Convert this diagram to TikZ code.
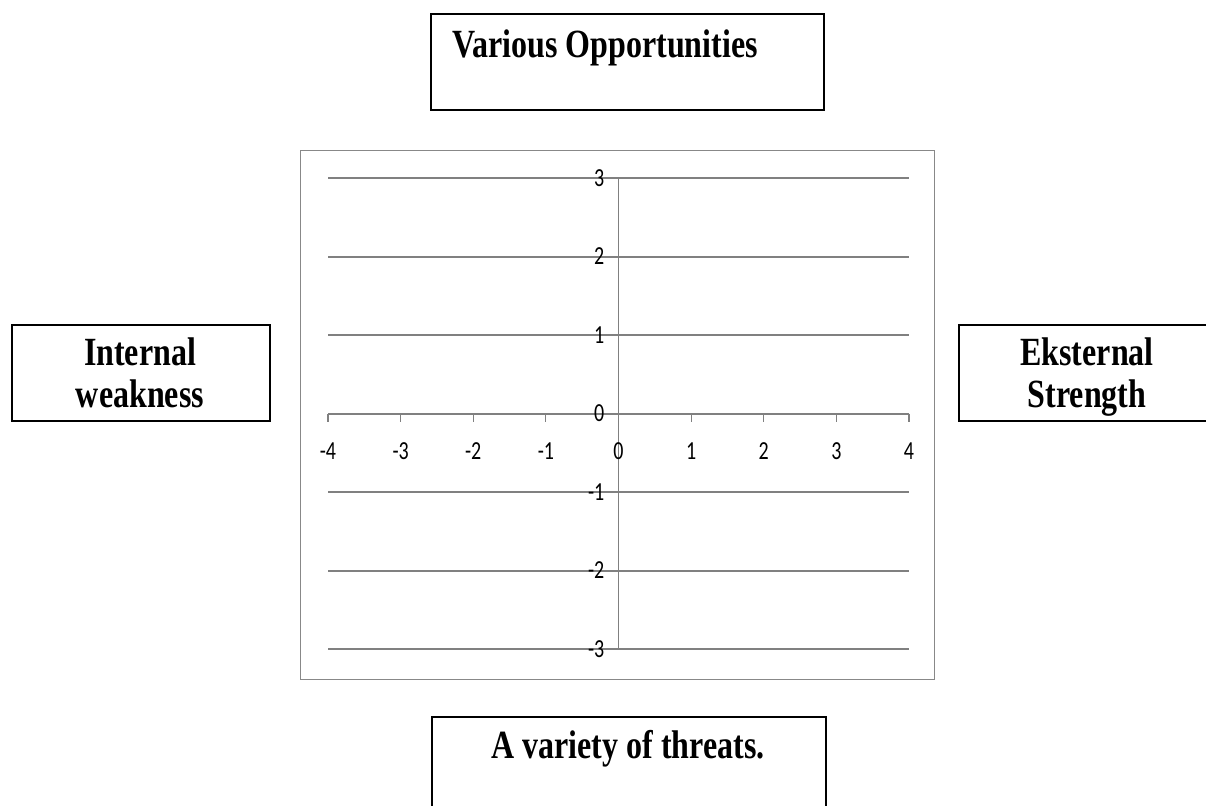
\documentclass[tikz,border=0pt]{standalone}
\usepackage{fontspec}
\usepackage{graphicx}
\setmainfont{Liberation Serif}
\newfontfamily\chartfont{Carlito}
\usepackage{tikz}
\usetikzlibrary{positioning}
\definecolor{gridgray}{RGB}{128,128,128}
\definecolor{framegray}{RGB}{136,136,136}
\newcommand\stretchtxt[2][1.25]{\scalebox{1}[#1]{#2}}

\begin{document}
\begin{tikzpicture}[
  x=1pt, y=-1pt,
  box/.style={draw, line width=1.7pt, anchor=north west, minimum height=96pt},
  boxtext/.style={font=\fontsize{32}{42}\selectfont\bfseries, align=center, inner sep=0pt},
  gridline/.style={gridgray, line width=2pt},
  axisline/.style={gridgray, line width=1.2pt},
  numlabel/.style={font=\chartfont\fontsize{20}{20}\selectfont, inner sep=0pt}]
  \clip (0,0) rectangle (1206,805);
  \fill[white] (0,0) rectangle (1206,805);

  % the four boxes
  \node[box, minimum width=393pt] (opp) at (430,13) {};
  \node[boxtext, anchor=base west] (opplabel) at (452,58) {\stretchtxt{Various Opportunities}};
  \node[box, minimum width=258pt] (weak) at (11,324) {};
  \node[boxtext, anchor=base] (weaklabel) at (140,407) {\stretchtxt{Internal}\\\stretchtxt{weakness}};
  \node[box, minimum width=258pt] (strong) at (958,324) {};
  \node[boxtext, anchor=base] (stronglabel) at (1087,407) {\stretchtxt{Eksternal}\\\stretchtxt{Strength}};
  \node[box, minimum width=394pt, minimum height=130pt] (threat) at (431,716) {};
  \node[boxtext, anchor=base] (threatlabel) at (628,758) {\stretchtxt{A variety of threats.}};

  % chart
  \node[draw=framegray, line width=1.4pt, anchor=north west,
        minimum width=634pt, minimum height=529pt] (chart) at (300,150) {};
  \begin{scope}[shift={(618.5,413.5)}, x=72.625pt, y=78.5pt]
    \foreach \v in {-3,...,3} {
      \draw[gridline] (-4,\v) -- (4,\v);
      \draw[axisline] (0,\v) -- ++(-6pt,0);
      \node[numlabel, anchor=east] (ylab\v) at ([xshift=-14pt]0,\v) {\stretchtxt[1.3]{\v}};
    }
    \draw[axisline] (0,-3) -- (0,3);
    \foreach \u in {-4,...,4} {
      \draw[axisline] (\u,0) -- ++(0,-8pt);
      \node[numlabel] (xlab\u) at ([yshift=-38pt]\u,0) {\stretchtxt[1.3]{\u}};
    }
  \end{scope}
\end{tikzpicture}
\end{document}
